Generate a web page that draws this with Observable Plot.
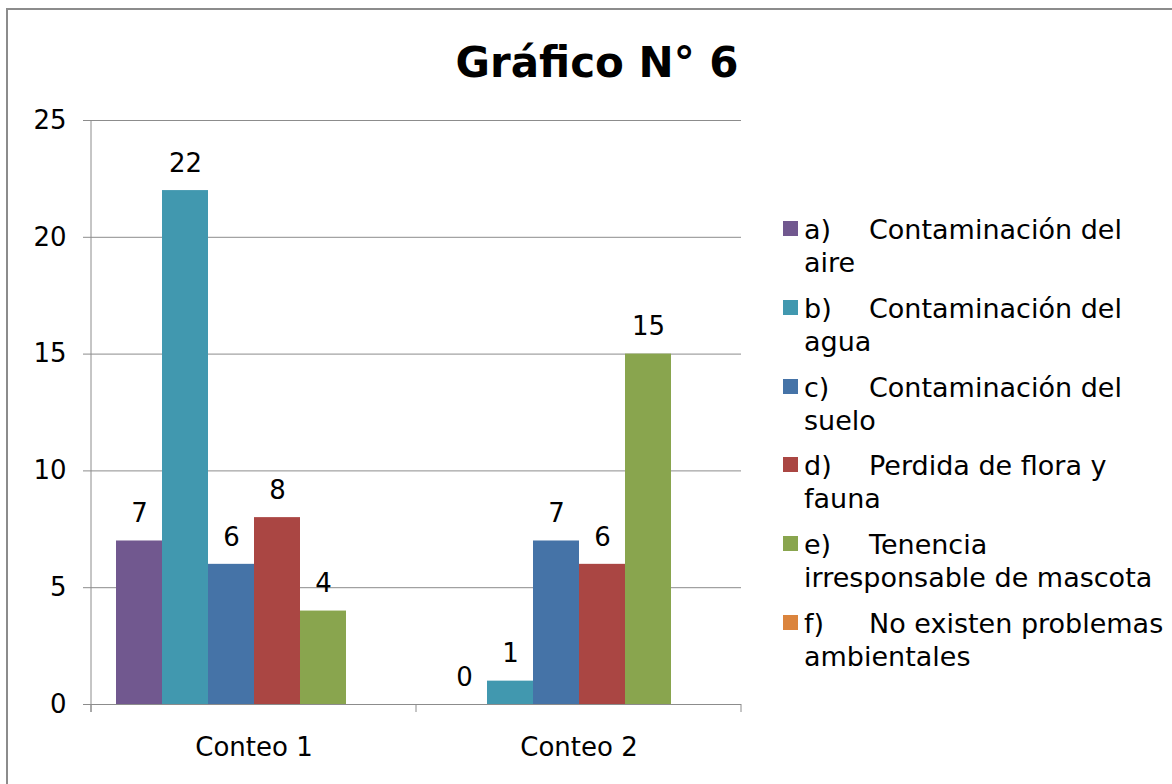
<!DOCTYPE html>
<html><head><meta charset="utf-8">
<script src="https://cdn.jsdelivr.net/npm/d3@7"></script>
<script src="https://cdn.jsdelivr.net/npm/@observablehq/plot@0.6"></script>
<style>
html,body{margin:0;padding:0;background:#fff;overflow:hidden;}
#wrap{position:relative;width:1172px;height:784px;overflow:hidden;font-family:"DejaVu Sans",sans-serif;color:#000;}
#border{position:absolute;left:6px;top:8px;width:1300px;height:900px;border:2px solid #8c8c8c;}
#title{position:absolute;left:0;width:1194px;top:41px;text-align:center;font-weight:bold;font-size:42px;line-height:43px;}
#chart{position:absolute;left:0;top:0;}
#legend{position:absolute;left:783px;top:213px;}
.row{position:relative;height:66px;margin-bottom:12.8px;}
.sw{position:absolute;left:0;top:8px;width:15px;height:15px;}
.ln{position:absolute;left:21px;white-space:nowrap;font-size:27px;line-height:33px;}
.pre{display:inline-block;width:65px;}
</style></head>
<body><div id="wrap"><div id="border"></div><div id="title"></div><div id="chart"></div><div id="legend"></div></div>
<script>
const title = "Gráfico N° 6";
const groups = ["Conteo 1", "Conteo 2"];
const seriesKeys = ["a", "b", "c", "d", "e", "f"];
const legendPrefix = ["a)", "b)", "c)", "d)", "e)", "f)"];
const legendLine1 = ["Contaminación del", "Contaminación del", "Contaminación del", "Perdida de flora y", "Tenencia", "No existen problemas"];
const legendLine2 = ["aire", "agua", "suelo", "fauna", "irresponsable de mascota", "ambientales"];
const colors = ["#71588F", "#4198AF", "#4573A7", "#AA4643", "#89A54E", "#DB843D"];
const conteo1 = [7, 22, 6, 8, 4, null];
const conteo2 = [0, 1, 7, 6, 15, null];
const yTicks = [0, 5, 10, 15, 20, 25];

document.getElementById("title").textContent = title;

const rows = [];
[conteo1, conteo2].forEach((vals, gi) => {
  seriesKeys.forEach((s, si) => rows.push({group: groups[gi], series: s, value: vals[si]}));
});
const valid = rows.filter(d => d.value != null);

const chart = Plot.plot({
  width: 760, height: 784,
  marginLeft: 91, marginRight: 19, marginTop: 120, marginBottom: 80,
  style: {fontFamily: "DejaVu Sans", fontSize: "26px", color: "#000", background: "transparent", overflow: "visible"},
  fx: {domain: groups, padding: 0, label: null, axis: null},
  x: {domain: seriesKeys, paddingInner: 0, paddingOuter: 0.5, axis: null},
  y: {domain: [0, 25], axis: null},
  color: {domain: seriesKeys, range: colors},
  marks: [
    Plot.gridY(yTicks, {stroke: "#8c8c8c", strokeOpacity: 1}),
    Plot.rectY(valid, {fx: "group", x: "series", y: "value", fill: "series"}),
    Plot.text(valid, {fx: "group", x: "series", y: "value", text: d => String(d.value), dy: -27, fontSize: 26, fill: "#000"}),
    Plot.axisY(yTicks, {tickSize: 8, tickPadding: 17, stroke: "#8c8c8c", fill: "#000", fontSize: 26, label: null}),
    Plot.axisFx({anchor: "bottom", tickSize: 0, tickPadding: 33, fontSize: 26, fill: "#000", label: null})
  ]
});
document.getElementById("chart").appendChild(chart);

// axis line and group boundary ticks, positioned from the plot's own scales
const fx = chart.scale("fx"), y = chart.scale("y");
const svg = d3.select(chart);
const y0 = y.apply(0), yTop = y.apply(d3.max(yTicks));
const edges = groups.map(g => fx.apply(g)).concat([fx.apply(groups[groups.length - 1]) + fx.bandwidth]);
svg.append("line").attr("x1", edges[0]).attr("x2", edges[0]).attr("y1", yTop).attr("y2", y0 + 8)
  .attr("stroke", "#8c8c8c");
edges.forEach(e => svg.append("line").attr("x1", e).attr("x2", e).attr("y1", y0).attr("y2", y0 + 8).attr("stroke", "#8c8c8c"));

// legend
const legend = d3.select("#legend");
seriesKeys.forEach((s, i) => {
  const r = legend.append("div").attr("class", "row");
  r.append("div").attr("class", "sw").style("background", colors[i]);
  const l1 = r.append("div").attr("class", "ln").style("top", "0px");
  l1.append("span").attr("class", "pre").text(legendPrefix[i]);
  l1.append("span").text(legendLine1[i]);
  r.append("div").attr("class", "ln").style("top", "33px").text(legendLine2[i]);
});
</script></body></html>
